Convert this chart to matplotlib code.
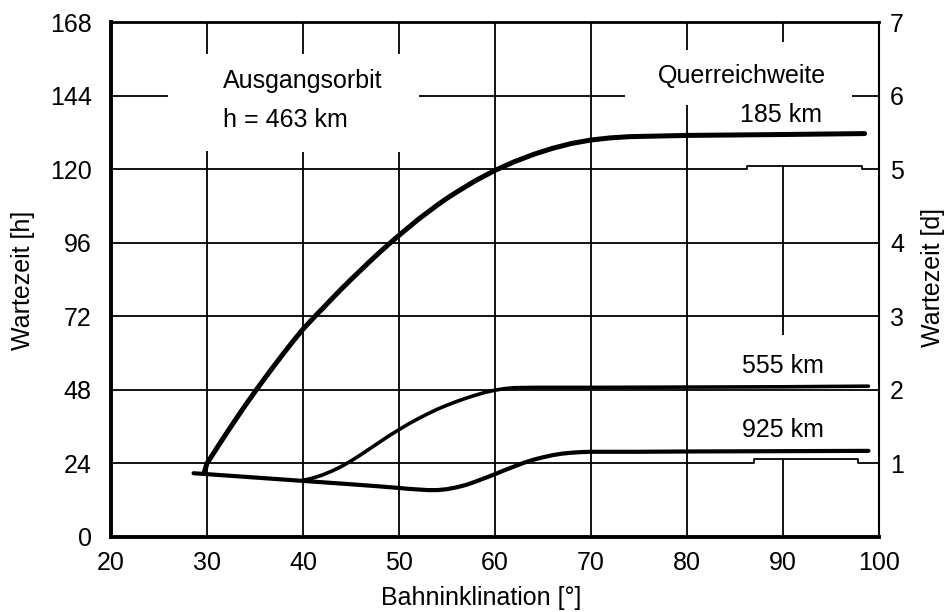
import numpy as np
import matplotlib.pyplot as plt

plt.rcParams['font.family'] = ['Liberation Sans', 'DejaVu Sans']

# Querreichweite 185 km
incl_185 = [29.7, 30, 31, 32, 33, 34, 35, 36, 37, 38, 39, 40, 41.4, 42, 43, 44, 45, 46, 47,
            48, 49, 50, 52, 54, 55, 56, 58, 60, 62, 64, 66, 68, 70, 72, 74, 80, 90, 98.5]
wait_185 = [21.0, 24, 28.9, 33.7, 38.4, 43.0, 47.4, 51.7, 55.9, 60.0, 64.0, 67.8, 72.5, 74.4,
            77.7, 80.9, 84.0, 87.0, 90.0, 92.9, 95.7, 98.4, 103.6, 108.3, 110.5, 112.5, 116.3,
            119.6, 122.4, 124.8, 126.8, 128.4, 129.5, 130.2, 130.6, 131.0, 131.3, 131.6]

# Querreichweite 555 km
incl_555 = [39.9, 41, 42, 43, 44, 45, 46, 47, 48, 49, 50, 51, 52, 53, 54, 55, 56, 57, 58, 59,
            60, 61, 62, 64, 70, 80, 90, 98.9]
wait_555 = [18.4, 19.2, 20.2, 21.5, 23.0, 24.8, 26.8, 28.9, 31.0, 33.1, 35.0, 36.9, 38.6, 40.2,
            41.7, 43.0, 44.2, 45.3, 46.3, 47.2, 47.9, 48.4, 48.7, 48.8, 48.8, 48.9, 49.0, 49.2]

# Querreichweite 925 km (mit gemeinsamem Anfangsast)
incl_925 = [28.6, 30, 35, 40, 45, 48, 50, 51, 52, 53, 54, 55, 56, 57, 58, 59, 60, 61, 62, 63,
            64, 65, 66, 67, 68, 69, 70, 75, 80, 90, 98.9]
wait_925 = [20.8, 20.5, 19.4, 18.3, 17.2, 16.5, 16.0, 15.7, 15.5, 15.3, 15.3, 15.6, 16.2, 17.0,
            18.1, 19.3, 20.5, 21.8, 23.0, 24.2, 25.2, 26.0, 26.7, 27.2, 27.5, 27.7, 27.8, 27.8,
            27.9, 28.0, 28.1]

x_ticks = list(range(20, 101, 10))
y_ticks_h = list(range(0, 169, 24))
y_ticks_d = list(range(1, 8))

fig = plt.figure(figsize=(9.48, 6.12), dpi=100)
ax = fig.add_axes([111 / 948, 75 / 612, 768 / 948, 515 / 612])
ax.set_xlim(20, 100)
ax.set_ylim(0, 168)

# gitter, mit den Luecken der Vorlage
grid_kw = dict(color='black', lw=1.3, zorder=1)
v_segments = [(30, 0, 126), (30, 157.5, 168),
              (40, 0, 125.5), (40, 157.5, 168),
              (50, 0, 125.5), (50, 157.5, 168),
              (60, 0, 168), (70, 0, 168),
              (80, 0, 141), (80, 158.8, 168),
              (90, 0, 25.3), (90, 66, 121), (90, 161.4, 168)]
for x, y0, y1 in v_segments:
    ax.vlines(x, y0, y1, **grid_kw)

h_segments = [(48, 20, 100), (72, 20, 100), (96, 20, 100),
              (144, 20, 25.9), (144, 52.1, 73.5), (144, 97.2, 100)]
for y, x0, x1 in h_segments:
    ax.hlines(y, x0, x1, **grid_kw)

# versetzte Stuecke bei 24 h und 120 h
ax.plot([20, 87.0, 87.0, 97.8, 97.8, 100], [24, 24, 25.3, 25.3, 24, 24], **grid_kw)
ax.plot([20, 86.2, 86.2, 98.2, 98.2, 100], [120, 120, 121, 121, 120, 120], **grid_kw)

line_kw = dict(color='black', solid_capstyle='round', solid_joinstyle='round', zorder=3)
ax.plot(incl_925, wait_925, lw=3.0, **line_kw)
ax.plot(incl_555, wait_555, lw=2.6, **line_kw)
ax.plot(incl_185, wait_185, lw=3.6, **line_kw)

fs = 18
ax.text(31.7, 146.4, 'Ausgangsorbit', fontsize=fs, va='baseline', ha='left')
ax.text(31.7, 133.7, 'h = 463 km', fontsize=fs, va='baseline', ha='left')
ax.text(77.0, 148.0, 'Querreichweite', fontsize=fs, va='baseline', ha='left')
ax.text(94.1, 135.3, '185 km', fontsize=fs, va='baseline', ha='right')
ax.text(94.3, 53.6, '555 km', fontsize=fs, va='baseline', ha='right')
ax.text(94.3, 32.7, '925 km', fontsize=fs, va='baseline', ha='right')

ax.set_xticks(x_ticks)
ax.set_yticks(y_ticks_h)
ax.tick_params(axis='x', length=0, labelsize=fs, pad=10)
ax.tick_params(axis='y', length=0, labelsize=fs, pad=14)

ax.spines['left'].set_linewidth(2.8)
ax.spines['bottom'].set_linewidth(2.8)
ax.spines['top'].set_linewidth(2.0)
ax.spines['right'].set_linewidth(1.5)

ax2 = ax.twinx()
ax2.set_ylim(0, 7)
ax2.set_yticks(y_ticks_d)
ax2.tick_params(axis='y', length=0, labelsize=fs, pad=8)
for s in ax2.spines.values():
    s.set_visible(False)

fig.text(23 / 948, 1 - 280 / 612, 'Wartezeit [h]', fontsize=fs, rotation=90,
         ha='center', va='center')
fig.text(933 / 948, 1 - 278 / 612, 'Wartezeit [d]', fontsize=fs, rotation=90,
         ha='center', va='center')
fig.text(481 / 948, 1 - 598 / 612, 'Bahninklination [°]', fontsize=fs,
         ha='center', va='center')

fig.savefig('out.png', dpi=100)
